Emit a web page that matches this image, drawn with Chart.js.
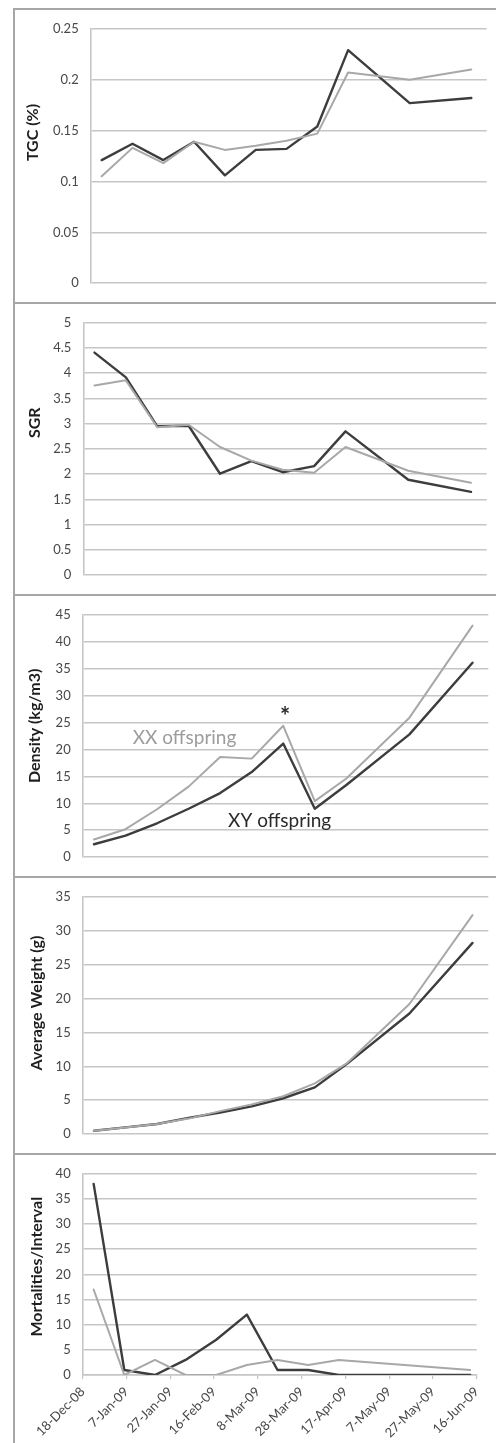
<!DOCTYPE html>
<html>
<head>
<meta charset="utf-8">
<script src="https://cdn.jsdelivr.net/npm/chart.js@4.4.1/dist/chart.umd.min.js"></script>
<style>
    html, body { margin: 0; padding: 0; background: #fff; }
    body { width: 496px; height: 1443px; position: relative; overflow: hidden; }
    .panel { position: absolute; left: 14px; width: 482px; }
    .panel canvas { display: block; }
    .hline { position: absolute; left: 13px; right: 0; height: 2px; background: #a6a6a6; }
    .vline { position: absolute; left: 13px; top: 8px; bottom: 0; width: 2px; background: #a6a6a6; }
</style>
</head>
<body>
<div class="panel" style="top:9px;height:294px"><canvas id="tgc"></canvas></div>
<div class="panel" style="top:303px;height:292px"><canvas id="sgr"></canvas></div>
<div class="panel" style="top:595px;height:282px"><canvas id="density"></canvas></div>
<div class="panel" style="top:877px;height:277px"><canvas id="weight"></canvas></div>
<div class="panel" style="top:1154px;height:289px"><canvas id="mortality"></canvas></div>

<div class="vline"></div>
<div class="hline" style="top:8px"></div>
<div class="hline" style="top:302px"></div>
<div class="hline" style="top:594px"></div>
<div class="hline" style="top:876px"></div>
<div class="hline" style="top:1153px"></div>

<script>
'use strict';

// sampling dates (growth panels) and mortality count dates
const axisStart = '2008-12-18';
const sampleDates = ['2008-12-23', '2009-01-06', '2009-01-20', '2009-02-03', '2009-02-17', '2009-03-03',
                     '2009-03-17', '2009-03-31', '2009-04-14', '2009-05-12', '2009-06-09'];
const mortalityDates = ['2008-12-23', '2009-01-06', '2009-01-20', '2009-02-03', '2009-02-17', '2009-03-03',
                        '2009-03-17', '2009-03-31', '2009-04-14', '2009-06-13'];

// XY = dark line, XX = grey line
const tgcXY = [0.121, 0.137, 0.121, 0.139, 0.106, 0.131, 0.132, 0.154, 0.229, 0.177, 0.182];
const tgcXX = [0.105, 0.133, 0.118, 0.139, 0.131, 0.135, 0.140, 0.147, 0.207, 0.200, 0.210];
const sgrXY = [4.41, 3.92, 2.95, 2.96, 2.01, 2.26, 2.04, 2.16, 2.85, 1.89, 1.65];
const sgrXX = [3.76, 3.86, 2.93, 2.98, 2.54, 2.27, 2.09, 2.03, 2.54, 2.07, 1.83];
const densityXY = [2.4, 4.0, 6.3, 9.0, 11.9, 15.8, 21.1, 9.0, 13.4, 22.8, 36.1];
const densityXX = [3.3, 5.2, 8.9, 13.1, 18.6, 18.3, 24.4, 10.4, 14.6, 25.9, 43.0];
const weightXY = [0.5, 1.0, 1.5, 2.4, 3.2, 4.1, 5.3, 6.9, 10.3, 17.8, 28.2];
const weightXX = [0.5, 1.0, 1.5, 2.3, 3.4, 4.4, 5.6, 7.5, 10.4, 19.2, 32.3];
const mortalityXY = [38, 1, 0, 3, 7, 12, 1, 1, 0, 0];
const mortalityXX = [17, 0, 3, 0, 0, 2, 3, 2, 3, 1];

const MONTHS = ['Jan', 'Feb', 'Mar', 'Apr', 'May', 'Jun', 'Jul', 'Aug', 'Sep', 'Oct', 'Nov', 'Dec'];
const DAY_MS = 86400000;
const FONT = 'Lato, "Open Sans", sans-serif';
const grey = '#a8a8a8';
const dark = '#3d3d3d';
const gridColor = '#c6c6c6';

Chart.defaults.font.family = FONT;
Chart.defaults.color = '#484848';

function dayOffset(iso) {
    return (Date.parse(iso) - Date.parse(axisStart)) / DAY_MS;
}

function points(dates, values) {
    return dates.map((d, i) => ({ x: dayOffset(d), y: values[i] }));
}

function dateLabel(day) {
    const d = new Date(Date.parse(axisStart) + day * DAY_MS);
    return d.getUTCDate() + '-' + MONTHS[d.getUTCMonth()] + '-' + String(d.getUTCFullYear()).slice(2);
}

// excel style: 0.1 not 0.10, 5 not 5.0
function plainNumber(value) {
    return String(Math.round(value * 1000) / 1000);
}

// rotated bold axis title, placed where the original had it
const sideTitle = {
    id: 'sideTitle',
    afterDraw(chart, args, opts) {
        if (!opts.text) return;
        const ctx = chart.ctx;
        ctx.save();
        ctx.translate(opts.x, opts.y);
        ctx.rotate(-Math.PI / 2);
        ctx.font = 'bold 16px ' + FONT;
        ctx.fillStyle = '#1e1e1e';
        ctx.textAlign = 'center';
        ctx.textBaseline = 'middle';
        ctx.fillText(opts.text, 0, 0);
        ctx.restore();
    }
};

// free text labels anchored in data space
const notes = {
    id: 'notes',
    afterDatasetsDraw(chart, args, opts) {
        if (!opts.items) return;
        const ctx = chart.ctx;
        const { x, y } = chart.scales;
        ctx.save();
        ctx.textAlign = 'center';
        ctx.textBaseline = 'middle';
        opts.items.forEach(function(item) {
            ctx.font = item.font;
            ctx.fillStyle = item.color;
            ctx.fillText(item.text, x.getPixelForValue(item.day), y.getPixelForValue(item.value));
        });
        ctx.restore();
    }
};

function lineChart(id, cfg) {
    const showDates = !!cfg.showDates;
    return new Chart(document.getElementById(id), {
        type: 'line',
        data: {
            datasets: [
                {
                    label: 'XX offspring',
                    data: points(cfg.dates, cfg.xx),
                    borderColor: grey,
                    borderWidth: 2
                },
                {
                    label: 'XY offspring',
                    data: points(cfg.dates, cfg.xy),
                    borderColor: dark,
                    borderWidth: 2.4
                }
            ]
        },
        options: {
            responsive: true,
            maintainAspectRatio: false,
            animation: false,
            layout: { padding: cfg.padding },
            elements: {
                point: { radius: 0, hoverRadius: 0 },
                line: { tension: 0, borderJoinStyle: 'round', borderCapStyle: 'round', fill: false }
            },
            plugins: {
                legend: { display: false },
                tooltip: { enabled: false },
                sideTitle: cfg.title,
                notes: { items: cfg.notes }
            },
            scales: {
                x: {
                    type: 'linear',
                    min: 0,
                    max: 180,
                    display: showDates,
                    grid: { drawOnChartArea: false, drawTicks: true, tickLength: 4, color: gridColor, lineWidth: 1.2 },
                    border: { display: true, color: gridColor, width: 1.6 },
                    ticks: {
                        stepSize: 20,
                        autoSkip: false,
                        minRotation: 45,
                        maxRotation: 45,
                        padding: 5,
                        font: { size: 13 },
                        callback: function(value) { return dateLabel(value); }
                    },
                    afterFit: function(scale) { if (showDates) scale.height = cfg.xHeight; }
                },
                y: {
                    min: 0,
                    max: cfg.yMax,
                    grid: { color: gridColor, lineWidth: 1.6, drawTicks: false },
                    border: { display: true, color: gridColor, width: 1.6 },
                    ticks: {
                        stepSize: cfg.yStep,
                        padding: 12,
                        font: { size: 13 },
                        callback: plainNumber
                    },
                    afterFit: function(scale) { scale.width = cfg.yWidth; }
                }
            }
        },
        plugins: [sideTitle, notes]
    });
}

lineChart('tgc', {
    dates: sampleDates, xy: tgcXY, xx: tgcXX,
    yMax: 0.25, yStep: 0.05, yWidth: 76.7,
    padding: { top: 15, right: 9.3, bottom: 16.3, left: 0 },
    title: { text: 'TGC (%)', x: 19.3, y: 123.5 }
});

lineChart('sgr', {
    dates: sampleDates, xy: sgrXY, xx: sgrXX,
    yMax: 5, yStep: 0.5, yWidth: 69.3,
    padding: { top: 14.3, right: 9.3, bottom: 15, left: 0 },
    title: { text: 'SGR', x: 21, y: 119.7 }
});

lineChart('density', {
    dates: sampleDates, xy: densityXY, xx: densityXX,
    yMax: 45, yStep: 5, yWidth: 68.7,
    padding: { top: 16.7, right: 7.7, bottom: 16.3, left: 0 },
    title: { text: 'Density (kg/m3)', x: 21, y: 130.8 },
    notes: [
        { text: 'XX offspring', day: 45.2, value: 22.2, color: '#9c9c9c', font: '19px ' + FONT },
        { text: 'XY offspring', day: 87.4, value: 6.8, color: '#2a2a2a', font: '19px ' + FONT },
        { text: '*', day: 89.8, value: 26, color: '#2a2a2a', font: 'bold 24px ' + FONT }
    ]
});

lineChart('weight', {
    dates: sampleDates, xy: weightXY, xx: weightXX,
    yMax: 35, yStep: 5, yWidth: 68.7,
    padding: { top: 15.7, right: 7.7, bottom: 16.7, left: 0 },
    title: { text: 'Average Weight (g)', x: 23.3, y: 126 }
});

lineChart('mortality', {
    dates: mortalityDates, xy: mortalityXY, xx: mortalityXX,
    yMax: 40, yStep: 5, yWidth: 68.7,
    showDates: true, xHeight: 68,
    padding: { top: 15.3, right: 19.3, bottom: 0, left: 0 },
    title: { text: 'Mortalities/Interval', x: 23.3, y: 112.7 }
});
</script>
</body>
</html>
